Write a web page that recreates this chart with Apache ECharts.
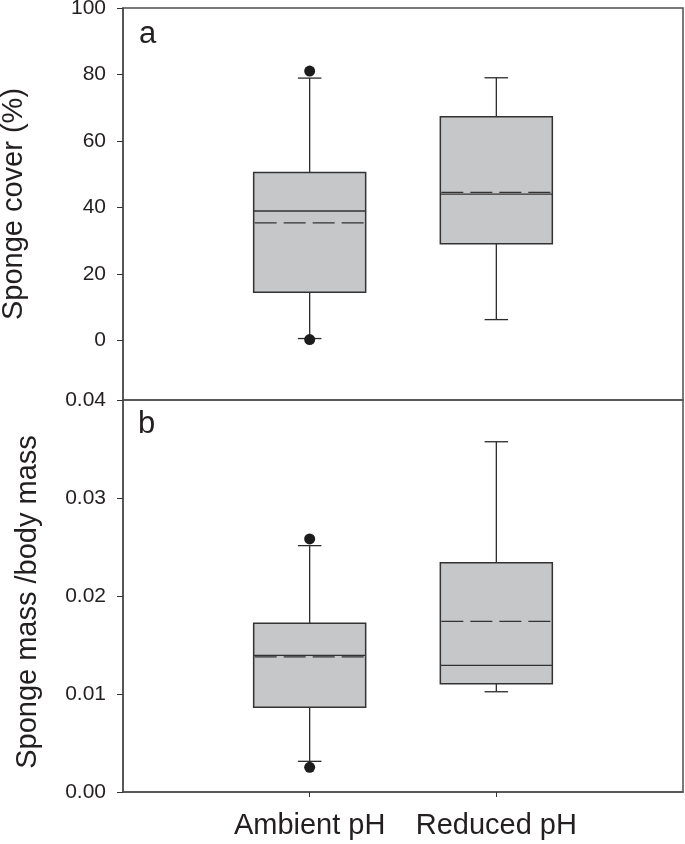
<!DOCTYPE html>
<html>
<head>
<meta charset="utf-8">
<script src="https://cdn.jsdelivr.net/npm/echarts@6/dist/echarts.min.js"></script>
<style>
html,body{margin:0;padding:0;background:#fff;}
#chart{width:685px;height:844px;}
</style>
</head>
<body>
<div id="chart"></div>
<script>
// ---- data ----
const categories = ['Ambient pH', 'Reduced pH'];

// panel a: sponge cover (%)
const coverLowerWhisker = [0.5, 6.2];
const coverQ1 = [14.4, 29.0];
const coverMedian = [38.9, 44.0];
const coverQ3 = [50.5, 67.3];
const coverUpperWhisker = [78.9, 79.0];
const coverMean = [35.3, 44.5];
const coverOutliers = [[1, 81.0], [1, 0.2]];
const coverTicks = [0, 20, 40, 60, 80, 100];

// panel b: sponge mass / body mass
const massLowerWhisker = [0.00313, 0.01023];
const massQ1 = [0.00864, 0.01105];
const massMedian = [0.01395, 0.01293];
const massQ3 = [0.01721, 0.0234];
const massUpperWhisker = [0.02514, 0.03574];
const massMean = [0.01378, 0.01742];
const massOutliers = [[1, 0.02582], [1, 0.00252]];
const massTicks = [0, 0.01, 0.02, 0.03, 0.04];

// ---- build ----
function boxData(lo, q1, med, q3, hi, mean) {
  return categories.map((c, i) => [i + 1, lo[i], q1[i], med[i], q3[i], hi[i], mean[i]]);
}
const FONT = "'Liberation Sans', Arial, Helvetica, sans-serif";
const TXT = '#231f20';
const LINE = '#2b2b2b';

function renderBox(params, api) {
  const x = api.value(0);
  const lo = api.coord([x, api.value(1)]);
  const q1 = api.coord([x, api.value(2)]);
  const med = api.coord([x, api.value(3)]);
  const q3 = api.coord([x, api.value(4)]);
  const hi = api.coord([x, api.value(5)]);
  const mean = api.coord([x, api.value(6)]);
  const left = api.coord([x - 0.3, api.value(3)])[0];
  const right = api.coord([x + 0.3, api.value(3)])[0];
  const capL = api.coord([x - 0.063, api.value(3)])[0];
  const capR = api.coord([x + 0.063, api.value(3)])[0];
  const cx = lo[0];
  const ls = {stroke: LINE, lineWidth: 1.3};
  return {
    type: 'group',
    children: [
      {type: 'line', shape: {x1: cx, y1: q3[1], x2: cx, y2: hi[1]}, style: ls},
      {type: 'line', shape: {x1: cx, y1: q1[1], x2: cx, y2: lo[1]}, style: ls},
      {type: 'line', shape: {x1: capL, y1: hi[1], x2: capR, y2: hi[1]}, style: ls},
      {type: 'line', shape: {x1: capL, y1: lo[1], x2: capR, y2: lo[1]}, style: ls},
      {type: 'rect', shape: {x: left, y: q3[1], width: right - left, height: q1[1] - q3[1]},
        style: {fill: '#c6c7c9', stroke: '#333', lineWidth: 1.5}},
      {type: 'line', shape: {x1: left, y1: med[1], x2: right, y2: med[1]}, style: {stroke: '#333', lineWidth: 1.3}},
      {type: 'line', shape: {x1: left + 1, y1: mean[1], x2: right - 1, y2: mean[1]},
        style: {stroke: '#333', lineWidth: 1.3, lineDash: [22, 7]}}
    ]
  };
}

const chart = echarts.init(document.getElementById('chart'), null, {renderer: 'canvas'});
const axisLabelStyle = {color: TXT, fontSize: 21, fontFamily: FONT};
chart.setOption({
  animation: false,
  backgroundColor: '#fff',
  textStyle: {fontFamily: FONT},
  title: [
    {text: 'a', left: 134, top: 14, textStyle: {fontSize: 31, fontWeight: 'normal', color: TXT, fontFamily: FONT}},
    {text: 'b', left: 133, top: 404, textStyle: {fontSize: 31, fontWeight: 'normal', color: TXT, fontFamily: FONT}}
  ],
  grid: [
    {left: 123, right: 2, top: 8, height: 392, show: true, borderColor: '#4d4d4d', borderWidth: 1.5,
      outerBoundsMode: 'none', containLabel: false},
    {left: 123, right: 2, top: 400, height: 392, show: true, borderColor: '#4d4d4d', borderWidth: 1.5,
      outerBoundsMode: 'none', containLabel: false}
  ],
  xAxis: [
    {gridIndex: 0, type: 'value', min: 0, max: 3, interval: 1,
      axisLine: {show: false}, axisTick: {show: false}, axisLabel: {show: false}, splitLine: {show: false}},
    {gridIndex: 1, type: 'value', min: 0, max: 3, interval: 1,
      axisLine: {show: true, lineStyle: {color: '#4d4d4d', width: 1.5}},
      axisTick: {show: true, length: 5, customValues: [1, 2], lineStyle: {color: '#333'}},
      axisLabel: {show: true, customValues: [1, 2], formatter: v => categories[Math.round(v) - 1] || '',
        color: TXT, fontSize: 29, fontFamily: FONT, margin: 19},
      splitLine: {show: false}}
  ],
  yAxis: [
    {gridIndex: 0, type: 'value', min: -18, max: 100,
      name: 'Sponge cover (%)', nameLocation: 'middle', nameGap: 95, nameRotate: 90,
      nameTextStyle: {fontSize: 29, color: TXT, fontFamily: FONT},
      axisLine: {show: true, lineStyle: {color: '#4d4d4d', width: 1.5}},
      axisTick: {show: true, length: 6, customValues: coverTicks, lineStyle: {color: '#333'}},
      axisLabel: Object.assign({customValues: coverTicks, margin: 17}, axisLabelStyle),
      splitLine: {show: false}},
    {gridIndex: 1, type: 'value', min: 0, max: 0.04, interval: 0.01,
      name: 'Sponge mass /body mass', nameLocation: 'middle', nameGap: 81, nameRotate: 90,
      nameTextStyle: {fontSize: 29, color: TXT, fontFamily: FONT, padding: [0, 12, 0, 0]},
      axisLine: {show: true, lineStyle: {color: '#4d4d4d', width: 1.5}},
      axisTick: {show: true, length: 6, customValues: massTicks, lineStyle: {color: '#333'}},
      axisLabel: Object.assign({customValues: massTicks, margin: 17, formatter: v => v.toFixed(2)}, axisLabelStyle),
      splitLine: {show: false}}
  ],
  series: [
    {type: 'custom', xAxisIndex: 0, yAxisIndex: 0, renderItem: renderBox,
      data: boxData(coverLowerWhisker, coverQ1, coverMedian, coverQ3, coverUpperWhisker, coverMean)},
    {type: 'scatter', xAxisIndex: 0, yAxisIndex: 0, data: coverOutliers, symbolSize: 11,
      itemStyle: {color: '#1c1c1c', opacity: 1}, z: 5},
    {type: 'custom', xAxisIndex: 1, yAxisIndex: 1, renderItem: renderBox,
      data: boxData(massLowerWhisker, massQ1, massMedian, massQ3, massUpperWhisker, massMean)},
    {type: 'scatter', xAxisIndex: 1, yAxisIndex: 1, data: massOutliers, symbolSize: 11,
      itemStyle: {color: '#1c1c1c', opacity: 1}, z: 5}
  ]
});
</script>
</body>
</html>
